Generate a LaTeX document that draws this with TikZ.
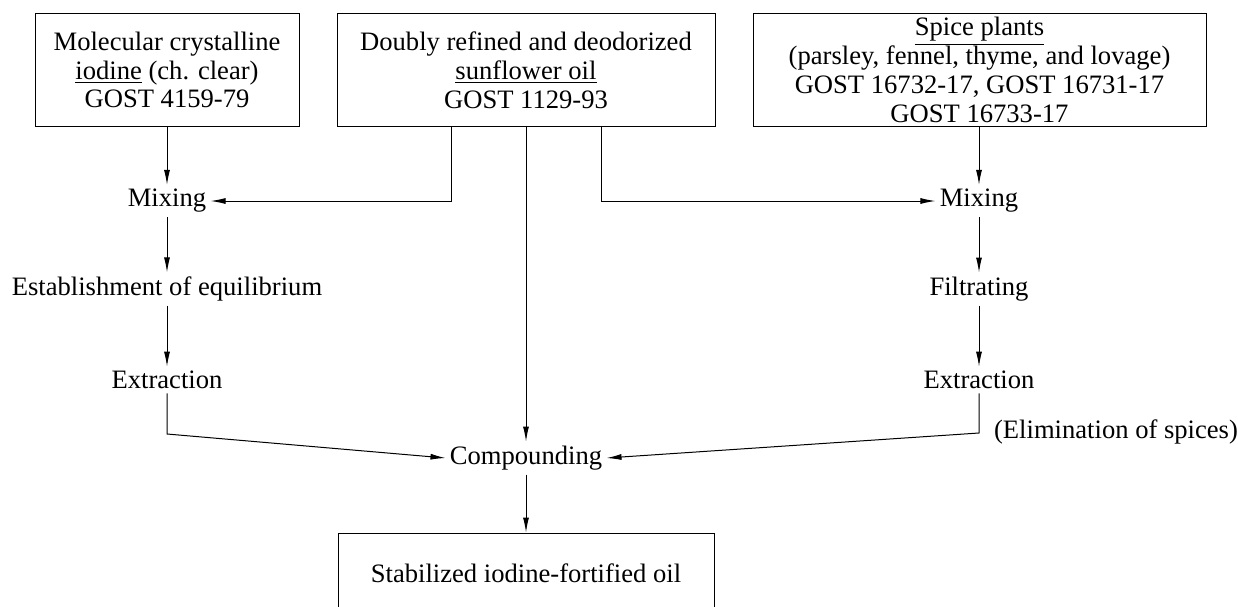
\documentclass[tikz,border=0pt]{standalone}
\usepackage{fontspec}
\setmainfont{Liberation Serif}
\usetikzlibrary{positioning,arrows.meta}

\begin{document}
\begin{tikzpicture}[
    x=0.5pt, y=-0.5pt,
    font=\fontsize{13.3pt}{14.4pt}\selectfont,
    srcbox/.style={draw,line width=0.5pt,align=center,minimum height=56.5pt},
    stage/.style={inner sep=2pt,align=center},
    flow/.style={line width=0.5pt,-{Latex[length=7.5pt,width=3pt]}}
    ]
    \clip (0,0) rectangle (1238,606);

    % raw materials
    \node[srcbox,minimum width=132pt] (iodine) at (167,70)
        {Molecular crystalline\\ \underline{iodine} (ch. clear)\\ GOST 4159-79};
    \node[srcbox,minimum width=189pt] (oil) at (526,70)
        {Doubly refined and deodorized\\ \underline{sunflower oil}\\ GOST 1129-93};
    \node[srcbox,minimum width=226.5pt,inner ysep=0pt] (spice) at (979.5,70)
        {\underline{Spice plants}\\ (parsley, fennel, thyme, and lovage)\\ GOST 16732-17, GOST 16731-17\\ GOST 16733-17};

    % iodine branch
    \node[stage] (mixL) at (167,201) {Mixing};
    \node[stage] (equil) at (167,289) {Establishment of equilibrium};
    \node[stage] (extrL) at (167,380) {Extraction};

    % spice branch
    \node[stage] (mixR) at (979,201) {Mixing};
    \node[stage] (filt) at (979,289) {Filtrating};
    \node[stage] (extrR) at (979,380) {Extraction};
    \node[stage] (elim) at (1116,432) {(Elimination of spices)};

    \node[stage] (comp) at (526,458) {Compounding};
    \node[srcbox,minimum width=188pt,minimum height=40pt] (product) at (526,573)
        {Stabilized iodine-fortified oil};

    \coordinate (jL) at (167,434);
    \coordinate (jR) at (979,433);

    \draw[flow] (iodine) -- (mixL);
    \draw[flow] (mixL) -- (equil);
    \draw[flow] (equil) -- (extrL);
    \draw[flow] ([xshift=-37.5pt]oil.south) |- (mixL.east);
    \draw[flow] ([xshift=37.5pt]oil.south) |- (mixR.west);
    \draw[flow] (spice.south -| mixR) -- (mixR);
    \draw[flow] (mixR) -- (filt);
    \draw[flow] (filt) -- (extrR);
    \draw[flow] (oil.south) -- (comp.north);
    \draw[flow] (extrL) -- (jL) -- (comp.west);
    \draw[flow] (extrR) -- (jR) -- (comp.east);
    \draw[flow] (comp) -- (product);

\end{tikzpicture}
\end{document}
